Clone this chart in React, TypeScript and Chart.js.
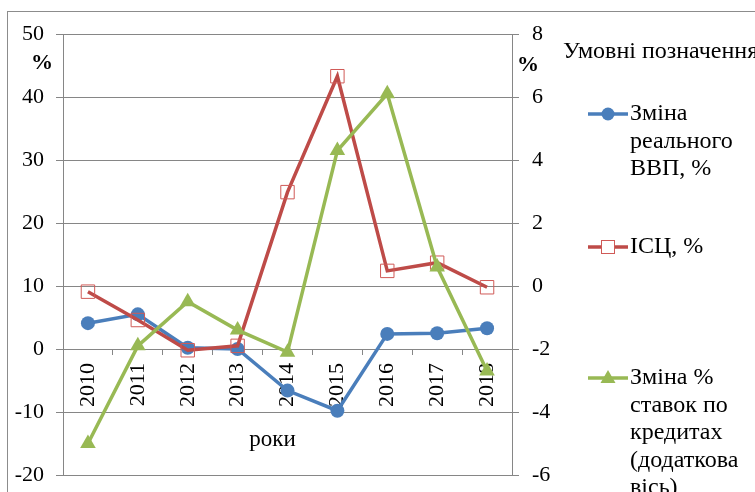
import React, { useEffect, useRef } from "react";
import { Chart, registerables } from "chart.js";

Chart.register(...registerables);

const years = ["2010", "2011", "2012", "2013", "2014", "2015", "2016", "2017", "2018"];
const gdpChange = [4.1, 5.5, 0.2, 0.0, -6.6, -9.8, 2.4, 2.5, 3.3];
const cpi = [9.1, 4.6, -0.2, 0.5, 24.9, 43.3, 12.4, 13.7, 9.8];
const loanRateChange = [-5.0, -1.9, -0.5, -1.4, -2.1, 4.3, 6.1, 0.6, -2.7];

const leftTicks = { min: -20, max: 50, step: 10 };
const rightTicks = { min: -6, max: 8, step: 2 };

const legendTitle = "Умовні позначення:";
const legendGdp = ["Зміна", "реального", "ВВП, %"];
const legendCpi = ["ІСЦ, %"];
const legendRate = ["Зміна %", "ставок по", "кредитах", "(додаткова", "вісь)"];
const xTitle = "роки";
const unitLabel = "%";

const BLUE = "#4A7EBB";
const RED = "#BE4B48";
const RED_MARK = "#D05A57";
const GREEN = "#98B954";
const GRID = "#868686";
const FONT = "'Liberation Serif', 'Times New Roman', serif";
const FS = 22;
const LFS = 24;

function drawMarker(ctx: CanvasRenderingContext2D, kind: string, x: number, y: number) {
  ctx.save();
  if (kind === "circle") {
    ctx.fillStyle = BLUE;
    ctx.beginPath();
    ctx.arc(x, y, 6.5, 0, Math.PI * 2);
    ctx.fill();
  } else if (kind === "rect") {
    ctx.fillStyle = "#fff";
    ctx.strokeStyle = RED_MARK;
    ctx.lineWidth = 1;
    ctx.fillRect(x - 6.5, y - 6.5, 13, 13);
    ctx.strokeRect(x - 6.5, y - 6.5, 13, 13);
  } else {
    ctx.fillStyle = GREEN;
    ctx.beginPath();
    ctx.moveTo(x, y - 8);
    ctx.lineTo(x + 7.5, y + 5);
    ctx.lineTo(x - 7.5, y + 5);
    ctx.closePath();
    ctx.fill();
  }
  ctx.restore();
}

const extrasPlugin = {
  id: "extras",
  beforeDraw(chart: any) {
    const ctx = chart.ctx as CanvasRenderingContext2D;
    ctx.save();
    ctx.fillStyle = "#fff";
    ctx.fillRect(0, 0, chart.width, chart.height);
    ctx.strokeStyle = "#8C8C8C";
    ctx.lineWidth = 1;
    ctx.strokeRect(7.5, 11.5, 900, 700);
    ctx.restore();
  },
  afterDraw(chart: any) {
    const ctx = chart.ctx as CanvasRenderingContext2D;
    const area = chart.chartArea;
    ctx.save();
    ctx.fillStyle = "#000";
    ctx.textBaseline = "middle";
    // unit labels
    ctx.font = `bold ${FS}px ${FONT}`;
    ctx.textAlign = "center";
    ctx.fillText(unitLabel, area.left - 21, 63);
    ctx.fillText(unitLabel, area.right + 16, 65);
    // x title
    ctx.font = `${LFS - 1}px ${FONT}`;
    const xs = chart.scales.x;
    ctx.fillText(xTitle, (xs.getPixelForValue(3) + xs.getPixelForValue(4)) / 2 + 10, 440);
    // legend
    ctx.font = `${LFS}px ${FONT}`;
    ctx.textAlign = "left";
    ctx.fillText(legendTitle, 563, 52);
    const items = [
      { kind: "circle", color: BLUE, lines: legendGdp, y: 114 },
      { kind: "rect", color: RED, lines: legendCpi, y: 247 },
      { kind: "triangle", color: GREEN, lines: legendRate, y: 378 },
    ];
    for (const it of items) {
      ctx.strokeStyle = it.color;
      ctx.lineWidth = 3.5;
      ctx.beginPath();
      ctx.moveTo(588, it.y);
      ctx.lineTo(628, it.y);
      ctx.stroke();
      drawMarker(ctx, it.kind, 608, it.y);
      it.lines.forEach((t, i) => {
        ctx.fillStyle = "#000";
        ctx.fillText(t, 630, it.y + i * 27.5);
      });
    }
    ctx.restore();
  },
};

const noVPad = (w: number) => (s: any) => {
  s.width = w;
  s.paddingTop = 0;
  s.paddingBottom = 0;
};

export default function App() {
  const ref = useRef<HTMLCanvasElement | null>(null);
  useEffect(() => {
    if (!ref.current) return;
    const chart = new Chart(ref.current, {
      type: "line",
      data: {
        labels: years,
        datasets: [
          {
            label: legendGdp.join(" "),
            data: gdpChange,
            yAxisID: "y",
            borderColor: BLUE,
            backgroundColor: BLUE,
            borderWidth: 3.5,
            pointStyle: "circle",
            pointRadius: 7,
            pointBorderWidth: 0,
            pointBackgroundColor: BLUE,
            order: 3,
          },
          {
            label: legendCpi.join(" "),
            data: cpi,
            yAxisID: "y",
            borderColor: RED,
            backgroundColor: "rgba(0,0,0,0)",
            borderWidth: 3.5,
            pointStyle: "rect",
            pointRadius: 9.5,
            pointBorderWidth: 1,
            pointBorderColor: RED_MARK,
            pointBackgroundColor: "rgba(0,0,0,0)",
            order: 2,
          },
          {
            label: legendRate.join(" "),
            data: loanRateChange,
            yAxisID: "y1",
            borderColor: GREEN,
            backgroundColor: GREEN,
            borderWidth: 3.5,
            pointStyle: "triangle",
            pointRadius: 9,
            pointBorderWidth: 0,
            pointBackgroundColor: GREEN,
            order: 1,
          },
        ],
      },
      options: {
        responsive: false,
        animation: false,
        devicePixelRatio: 1,
        layout: { padding: { top: 34, bottom: 17, left: 0, right: 0 } },
        plugins: { legend: { display: false }, tooltip: { enabled: false } },
        elements: { line: { tension: 0 } },
        scales: {
          x: {
            type: "category",
            offset: true,
            position: { y: 0 } as any,
            grid: {
              drawOnChartArea: false,
              drawTicks: true,
              tickLength: 5,
              offset: true,
              color: GRID,
            },
            border: { display: true, color: GRID, width: 1 },
            ticks: {
              minRotation: 90,
              maxRotation: 90,
              autoSkip: false,
              padding: 9,
              color: "#000",
              font: { family: FONT, size: FS },
            },
            afterFit: (s: any) => {
              s.height = 0;
            },
          },
          y: {
            position: "left",
            min: leftTicks.min,
            max: leftTicks.max,
            ticks: {
              stepSize: leftTicks.step,
              padding: 12,
              color: "#000",
              font: { family: FONT, size: FS },
            },
            grid: { color: GRID, tickLength: 7 },
            border: { color: GRID, width: 1 },
            afterFit: noVPad(63),
          },
          y1: {
            position: "right",
            min: rightTicks.min,
            max: rightTicks.max,
            ticks: {
              stepSize: rightTicks.step,
              padding: 13,
              color: "#000",
              font: { family: FONT, size: FS },
            },
            grid: { color: GRID, tickLength: 7, drawOnChartArea: false },
            border: { color: GRID, width: 1 },
            afterFit: noVPad(243),
          },
        },
      },
      plugins: [extrasPlugin],
    });
    return () => chart.destroy();
  }, []);
  return (
    <div style={{ position: "absolute", left: 0, top: 0, width: 755, height: 492 }}>
      <canvas ref={ref} width={755} height={492} style={{ display: "block" }} />
    </div>
  );
}
